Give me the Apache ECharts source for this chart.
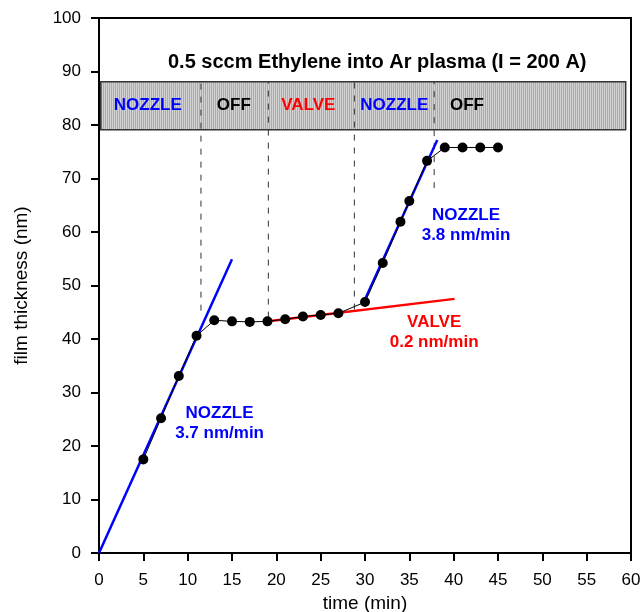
<!DOCTYPE html>
<html>
<head>
<meta charset="utf-8">
<script src="https://cdn.jsdelivr.net/npm/echarts@6/dist/echarts.min.js"></script>
<style>
  html, body { margin: 0; padding: 0; background: #fff; }
  #chart { width: 640px; height: 612px; }
</style>
</head>
<body>
<div id="chart"></div>
<script>
// Film thickness measurements (nm) versus deposition time (min)
const time = [5, 7, 9, 11, 13, 15, 17, 19, 21, 23, 25, 27, 30, 32, 34, 35, 37, 39, 41, 43, 45];
const thickness = [17.5, 25.2, 33.1, 40.6, 43.5, 43.3, 43.2, 43.3, 43.7, 44.2, 44.5, 44.8, 46.9, 54.2, 61.9, 65.8, 73.3, 75.8, 75.8, 75.8, 75.8];

// Linear fits for each deposition regime
const nozzleFit1 = [[0, 0], [15, 54.9]];
const valveFit = [[19.1, 43.3], [40.1, 47.5]];
const nozzleFit2 = [[29.7, 46.3], [38.15, 77.2]];

// Regime boundaries (time) and how far down each marker reaches (thickness)
const boundaryTimes = [11.5, 19.1, 28.8, 37.8];
const boundaryBottoms = [45.3, 44.0, 45.5, 68.2];

// Regime band across the top of the plot
const bandX = [0.2, 59.4];
const bandY = [79.1, 88.1];
const bandNames = ['NOZZLE', 'OFF', 'VALVE', 'NOZZLE', 'OFF'];
const bandNameX = [5.5, 15.2, 23.6, 33.3, 41.5];
const bandNameY = 83.7;
const bandColors = ['#0000ff', '#000000', '#ff0000', '#0000ff', '#000000'];

// Rate annotations
const rateTexts = ['NOZZLE\n3.7 nm/min', 'VALVE\n0.2 nm/min', 'NOZZLE\n3.8 nm/min'];
const rateX = [13.6, 37.8, 41.4];
const rateY = [24.3, 41.3, 61.3];
const rateColors = ['#0000ff', '#ff0000', '#0000ff'];

const xTicks = { min: 0, max: 60, interval: 5 };
const yTicks = { min: 0, max: 100, interval: 10 };

const FONT = 'Liberation Sans, Arial, Helvetica, sans-serif';

// Striped fill for the regime band
function stripePattern() {
  const c = document.createElement('canvas');
  c.width = 2; c.height = 4;
  const ctx = c.getContext('2d');
  ctx.fillStyle = '#d2d2d2';
  ctx.fillRect(0, 0, 2, 4);
  ctx.fillStyle = '#acacac';
  ctx.fillRect(1, 0, 1, 4);
  return c;
}
const stripes = stripePattern();

const chart = echarts.init(document.getElementById('chart'), null, { renderer: 'canvas' });

const series = [];

// Regime band
series.push({
  type: 'custom',
  z: 1,
  silent: true,
  data: [[bandX[0], bandY[0], bandX[1], bandY[1]]],
  renderItem: function (params, api) {
    const p0 = api.coord([api.value(0), api.value(3)]);
    const p1 = api.coord([api.value(2), api.value(1)]);
    return {
      type: 'rect',
      shape: { x: p0[0], y: p0[1], width: p1[0] - p0[0], height: p1[1] - p0[1] },
      style: { fill: { image: stripes, repeat: 'repeat' }, stroke: '#333', lineWidth: 1.5 }
    };
  }
});

// Dashed regime boundaries
boundaryTimes.forEach(function (t, i) {
  series.push({
    type: 'line',
    z: 3,
    silent: true,
    symbol: 'none',
    data: [[t, boundaryBottoms[i]], [t, bandY[1]]],
    lineStyle: { color: '#333', width: 1, type: [6, 7] }
  });
});

// Fit lines
series.push({
  type: 'line', z: 4, silent: true, symbol: 'none', data: nozzleFit1,
  lineStyle: { color: '#0000ff', width: 2.5 }
});
series.push({
  type: 'line', z: 4, silent: true, symbol: 'none', data: nozzleFit2,
  lineStyle: { color: '#0000ff', width: 2.5 }
});
series.push({
  type: 'line', z: 4, silent: true, symbol: 'none', data: valveFit,
  lineStyle: { color: '#ff0000', width: 2.5 }
});

// Measured points
series.push({
  type: 'line',
  z: 5,
  data: time.map(function (t, i) { return [t, thickness[i]]; }),
  symbol: 'circle',
  symbolSize: 10,
  showAllSymbol: true,
  itemStyle: { color: '#000' },
  lineStyle: { color: '#000', width: 1 }
});

// Band names and rate annotations as text anchored at data positions
function textSeries(texts, xs, ys, colors) {
  return {
    type: 'custom',
    z: 6,
    silent: true,
    data: texts.map(function (s, i) { return [xs[i], ys[i], i]; }),
    renderItem: function (params, api) {
      const i = api.value(2);
      const p = api.coord([api.value(0), api.value(1)]);
      return {
        type: 'text',
        x: p[0],
        y: p[1],
        style: {
          text: texts[i],
          fill: colors[i],
          font: 'bold 17px ' + FONT,
          lineHeight: 20,
          align: 'center',
          verticalAlign: 'middle'
        }
      };
    }
  };
}
series.push(textSeries(bandNames, bandNameX, bandNames.map(function () { return bandNameY; }), bandColors));
series.push(textSeries(rateTexts, rateX, rateY, rateColors));

chart.setOption({
  animation: false,
  backgroundColor: '#fff',
  title: {
    text: '0.5 sccm Ethylene into Ar plasma (I = 200 A)',
    left: 163,
    top: 47,
    textStyle: { fontFamily: FONT, fontWeight: 'bold', fontSize: 20, color: '#000' }
  },
  grid: {
    left: 99, top: 18, width: 532, height: 535,
    outerBoundsMode: 'none',
    containLabel: false,
    show: true, borderColor: '#000', borderWidth: 2, backgroundColor: 'transparent'
  },
  xAxis: {
    type: 'value',
    min: xTicks.min, max: xTicks.max, interval: xTicks.interval,
    name: 'time (min)',
    nameLocation: 'middle',
    nameGap: 36,
    nameTextStyle: { fontFamily: FONT, fontSize: 19, color: '#000' },
    axisLine: { lineStyle: { color: '#000', width: 2 } },
    axisTick: { show: true, inside: false, length: 8, lineStyle: { color: '#000', width: 2 } },
    axisLabel: { fontFamily: FONT, fontSize: 17, color: '#000', margin: 19 },
    splitLine: { show: false }
  },
  yAxis: {
    type: 'value',
    min: yTicks.min, max: yTicks.max, interval: yTicks.interval,
    name: 'film thickness (nm)',
    nameLocation: 'middle',
    nameGap: 68,
    nameTextStyle: { fontFamily: FONT, fontSize: 19, color: '#000' },
    axisLine: { lineStyle: { color: '#000', width: 2 } },
    axisTick: { show: true, inside: false, length: 8, lineStyle: { color: '#000', width: 2 } },
    axisLabel: { fontFamily: FONT, fontSize: 17, color: '#000', margin: 18 },
    splitLine: { show: false }
  },
  series: series
});
</script>
</body>
</html>
